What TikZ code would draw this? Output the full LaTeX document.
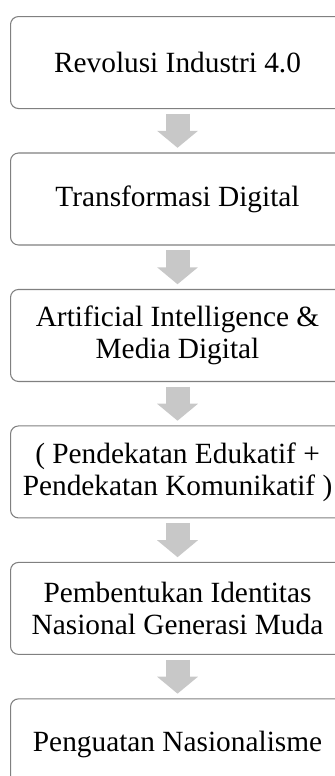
\documentclass[tikz,border=0pt]{standalone}
\usepackage{fontspec}
\setmainfont{Liberation Serif}
\usepackage{xcolor}
\usetikzlibrary{positioning}
\usetikzlibrary{arrows.meta}
\definecolor{boxline}{RGB}{128,128,128}
\definecolor{arrowgray}{RGB}{200,200,200}
\tikzset{node distance=32.55pt, % Gap between two boxes
  every node/.style={align=center,
    font=\fontsize{22}{24}\selectfont},
         stepbox/.style={ % Sets the properties for each box
           draw=boxline,
           line width=0.8pt,
           rounded corners=6pt,
           fill=white,
           minimum width=250.5pt,
           minimum height=69pt,
           inner sep=2pt},
         flow/.style={ % Sets the properties for each block arrow
           draw=arrowgray,
           line width=18pt,
           -{Triangle[width=30pt,length=12.75pt]}},
         gap/.style={shorten >=3.5pt, shorten <=3.5pt}}
\begin{document}
\begin{tikzpicture}
  \useasboundingbox (0,0) rectangle (251.25pt,-582pt);

  \node [stepbox, anchor=north west] (qrevolusi) at (7.5pt,-12pt) {Revolusi Industri 4.0};
  \node [stepbox, below=of qrevolusi] (qdigital) {Transformasi Digital};
  \node [stepbox, below=of qdigital] (qai) {Artificial Intelligence \&\\Media Digital};
  \node [stepbox, below=of qai] (qpendekatan) {( Pendekatan Edukatif +\\Pendekatan Komunikatif )};
  \node [stepbox, below=of qpendekatan] (qidentitas) {Pembentukan Identitas\\Nasional Generasi Muda};
  \node [stepbox, below=of qidentitas] (qnasionalisme) {Penguatan Nasionalisme};

  \draw [flow, gap] (qrevolusi) -- (qdigital);
  \draw [flow, gap] (qdigital) -- (qai);
  \draw [flow, gap] (qai) -- (qpendekatan);
  \draw [flow, gap] (qpendekatan) -- (qidentitas);
  \draw [flow, gap] (qidentitas) -- (qnasionalisme);

\end{tikzpicture}
\end{document}
